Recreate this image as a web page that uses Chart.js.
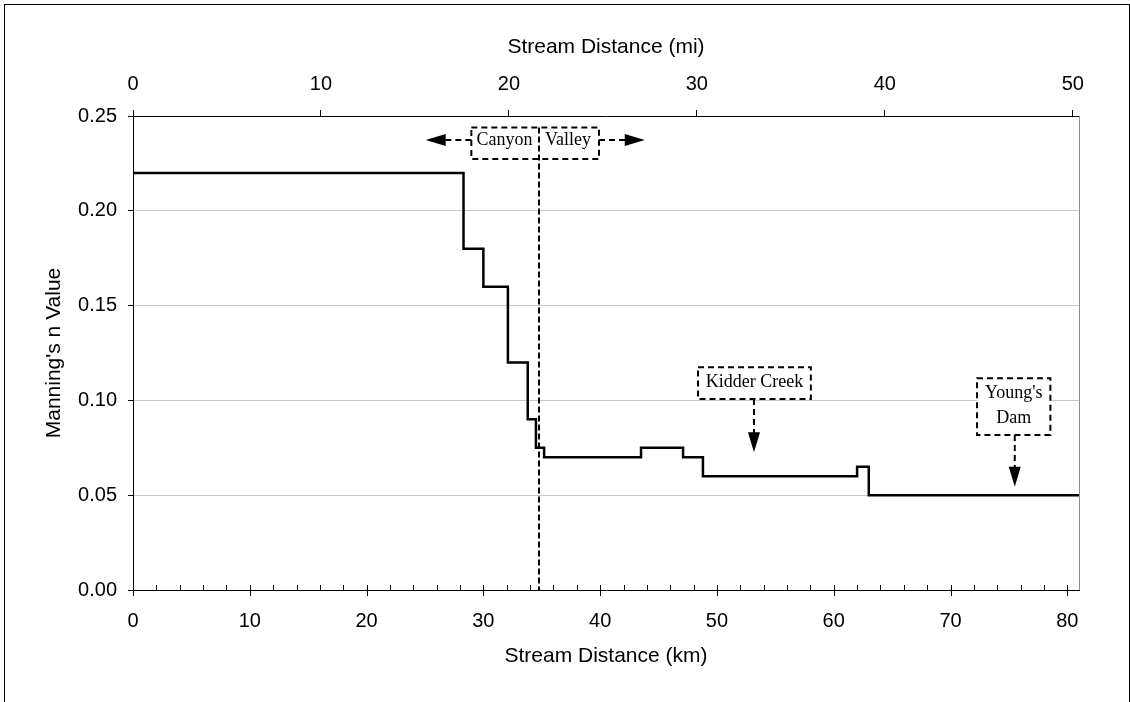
<!DOCTYPE html>
<html>
<head>
<meta charset="utf-8">
<script src="https://cdn.jsdelivr.net/npm/chart.js@4.4.1/dist/chart.umd.min.js"></script>
<style>
html, body { margin: 0; padding: 0; background: #fff; overflow: hidden; }
#wrap { position: relative; width: 1130px; height: 702px; }
#frame { position: absolute; left: 4px; top: 4px; width: 1124px; height: 740px; border: 1px solid #000; }
canvas { position: absolute; left: 0; top: 0; }
</style>
</head>
<body>
<div id="wrap"><div id="frame"></div><canvas id="plot" width="1130" height="702"></canvas></div>
<script>
// step profile of Manning's n along the stream (km where each value starts)
const breakKm = [0, 28.3, 30.0, 32.1, 33.8, 34.5, 35.2, 43.5, 47.1, 48.8, 62.0, 63.0, 81];
const nValue  = [0.22, 0.18, 0.16, 0.12, 0.09, 0.075, 0.07, 0.075, 0.07, 0.06, 0.065, 0.05, 0.05];

const kmMax = 81;
const KM_PER_MI = 1.609344;
const canyonKm = 34.8;

const tickFont = { family: 'Liberation Sans', size: 20 };
const titleFont = { family: 'Liberation Sans', size: 21 };
const noteFont = '18px "Liberation Serif"';

// callouts, anchored in data units (km, n)
const canyonNote = { box: [28.97, 0.2440, 39.90, 0.2273], arrowN: 0.2373, leftTip: 25.06, rightTip: 43.82 };
const callouts = [
    { lines: ['Kidder Creek'], box: [48.38, 0.1175, 58.04, 0.1007], arrowKm: 53.17, tipN: 0.0726 },
    { lines: ["Young's", 'Dam'], box: [72.27, 0.1117, 78.55, 0.0818], arrowKm: 75.5, tipN: 0.0545 }
];

const edgeValue = v => Math.abs(v) < 1e-9 || Math.abs(v - 0.25) < 1e-9;

const dashedBox = (ctx, x0, y0, x1, y1) => {
    ctx.fillStyle = '#fff';
    ctx.fillRect(x0, y0, x1 - x0, y1 - y0);
    ctx.setLineDash([6, 4]);
    ctx.lineWidth = 2;
    ctx.strokeStyle = '#000';
    ctx.strokeRect(x0, y0, x1 - x0, y1 - y0);
    ctx.setLineDash([]);
};

const dashedLine = (ctx, x0, y0, x1, y1) => {
    ctx.setLineDash([6, 4]);
    ctx.lineWidth = 2;
    ctx.beginPath(); ctx.moveTo(x0, y0); ctx.lineTo(x1, y1); ctx.stroke();
    ctx.setLineDash([]);
};

// triangle pointing from (bx,by) towards (tx,ty)
const head = (ctx, tx, ty, bx, by, half) => {
    const dx = tx - bx, dy = ty - by, len = Math.hypot(dx, dy);
    const nx = -dy / len * half, ny = dx / len * half;
    ctx.fillStyle = '#000';
    ctx.beginPath();
    ctx.moveTo(tx, ty);
    ctx.lineTo(bx + nx, by + ny);
    ctx.lineTo(bx - nx, by - ny);
    ctx.closePath();
    ctx.fill();
};

const extras = {
    id: 'extras',
    afterDatasetsDraw(chart) {
        const { ctx, chartArea: a, scales: { x, y } } = chart;
        const X = v => x.getPixelForValue(v), Y = v => y.getPixelForValue(v);
        ctx.save();

        // right edge of plot
        ctx.strokeStyle = '#8c8c8c';
        ctx.lineWidth = 1;
        ctx.beginPath(); ctx.moveTo(Math.round(a.right) + .5, a.top); ctx.lineTo(Math.round(a.right) + .5, a.bottom); ctx.stroke();

        // bottom axis tick marks: majors cross, minors inside
        ctx.strokeStyle = '#000';
        ctx.beginPath();
        for (let k = 0; k <= kmMax; k += 2) {
            const px = Math.round(X(k)) + .5;
            ctx.moveTo(px, a.bottom - 5);
            ctx.lineTo(px, a.bottom + (k % 10 === 0 ? 6 : 0));
        }
        ctx.stroke();

        // canyon / valley callout
        const [c0, c1, c2, c3] = canyonNote.box;
        dashedBox(ctx, X(c0), Y(c1), X(c2), Y(c3));
        const ay = Y(canyonNote.arrowN);
        dashedLine(ctx, X(c0), ay, X(canyonNote.leftTip) + 19, ay);
        head(ctx, X(canyonNote.leftTip), ay, X(canyonNote.leftTip) + 20, ay, 6);
        dashedLine(ctx, X(c2), ay, X(canyonNote.rightTip) - 19, ay);
        head(ctx, X(canyonNote.rightTip), ay, X(canyonNote.rightTip) - 20, ay, 6);

        const lx = Math.round(X(canyonKm));
        ctx.strokeStyle = '#000';
        ctx.lineWidth = 2;
        ctx.setLineDash([6, 3]);
        ctx.beginPath(); ctx.moveTo(lx, Y(c1)); ctx.lineTo(lx, a.bottom); ctx.stroke();
        ctx.setLineDash([]);

        ctx.font = noteFont;
        ctx.fillStyle = '#000';
        ctx.textBaseline = 'middle';
        ctx.textAlign = 'right';
        ctx.fillText('Canyon', lx - 6.5, ay);
        ctx.textAlign = 'left';
        ctx.fillText('Valley', lx + 6, ay);

        // other callouts
        callouts.forEach(c => {
            const [b0, b1, b2, b3] = c.box;
            const x0 = X(b0), y0 = Y(b1), x1 = X(b2), y1 = Y(b3);
            dashedBox(ctx, x0, y0, x1, y1);
            const cx = (x0 + x1) / 2, cy = (y0 + y1) / 2 - 1;
            ctx.font = noteFont;
            ctx.fillStyle = '#000';
            ctx.textAlign = 'center';
            ctx.textBaseline = 'middle';
            c.lines.forEach((t, i) => ctx.fillText(t, cx, cy + (i - (c.lines.length - 1) / 2) * 25));
            const axp = X(c.arrowKm), tip = Y(c.tipN);
            dashedLine(ctx, axp, y1, axp, tip - 19);
            head(ctx, axp, tip, axp, tip - 20, 6);
        });

        ctx.restore();
    }
};

new Chart(document.getElementById('plot'), {
    type: 'line',
    data: {
        datasets: [{
            data: breakKm.map((k, i) => ({ x: k, y: nValue[i] })),
            borderColor: '#000',
            borderWidth: 2.5,
            borderJoinStyle: 'miter',
            stepped: 'before',
            pointRadius: 0,
            fill: false
        }]
    },
    options: {
        responsive: false,
        animation: false,
        layout: { padding: { right: 51 } },
        plugins: { legend: { display: false }, tooltip: { enabled: false } },
        scales: {
            x: {
                type: 'linear', position: 'bottom', min: 0, max: kmMax,
                ticks: { stepSize: 10, includeBounds: false, autoSkip: false, maxRotation: 0, font: tickFont, color: '#000', padding: 19 },
                grid: { drawOnChartArea: false, drawTicks: false },
                border: { color: '#000', width: 1 },
                title: { display: true, text: 'Stream Distance (km)', font: titleFont, color: '#000', padding: { top: 0, bottom: 33 } },
                afterFit: s => { s.height = 112; }
            },
            x2: {
                type: 'linear', position: 'top', min: 0, max: kmMax / KM_PER_MI,
                ticks: { stepSize: 10, includeBounds: false, autoSkip: false, maxRotation: 0, font: tickFont, color: '#000', padding: 14 },
                grid: { drawOnChartArea: false, tickLength: 6, tickColor: '#000', color: '#000' },
                border: { color: '#000', width: 1 },
                title: { display: true, text: 'Stream Distance (mi)', font: titleFont, color: '#000', padding: { top: 35, bottom: 0 } },
                afterFit: s => { s.height = 116; }
            },
            y: {
                min: 0, max: 0.25,
                ticks: { stepSize: 0.05, callback: v => v.toFixed(2), font: tickFont, color: '#000', padding: 11 },
                grid: {
                    color: c => edgeValue(c.tick.value) ? 'rgba(0,0,0,0)' : '#c8c8c8',
                    tickColor: '#000', tickLength: 5, lineWidth: 1
                },
                border: { color: '#000', width: 1 },
                title: { display: true, text: "Manning's n Value", font: titleFont, color: '#000', padding: { top: 42, bottom: 0 } },
                afterFit: s => { s.width = 133; }
            }
        }
    },
    plugins: [extras]
});
</script>
</body>
</html>
